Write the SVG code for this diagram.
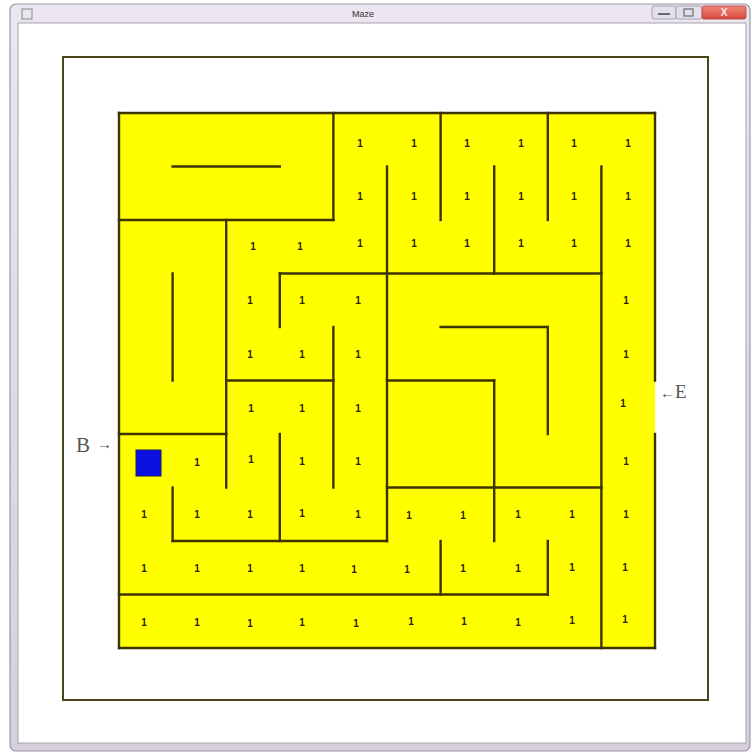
<svg xmlns="http://www.w3.org/2000/svg" width="752" height="753" viewBox="0 0 752 753">
<style>
.w{stroke:#3d3300;stroke-width:2.4;stroke-linecap:square;fill:none}
.m{font-family:"Liberation Sans",Arial,sans-serif;font-size:10px;font-weight:bold;fill:#2a2200;text-anchor:middle}
.lbl{font-family:"Liberation Serif","Times New Roman",serif;fill:#555}
</style>
<defs>
<linearGradient id="tb" x1="0" y1="0" x2="0" y2="1">
<stop offset="0" stop-color="#ece6f0"/><stop offset="1" stop-color="#d6cfdc"/>
</linearGradient>
<linearGradient id="cl" x1="0" y1="0" x2="0" y2="1">
<stop offset="0" stop-color="#f08a7a"/><stop offset="1" stop-color="#d8453a"/>
</linearGradient>
</defs>
<rect width="752" height="753" fill="#ffffff"/>
<g id="window">
<rect x="10" y="4" width="740" height="747" rx="6" fill="url(#tb)" stroke="#9a98a2" stroke-width="1.2"/>
<rect x="18" y="23" width="728" height="720" fill="#ffffff" stroke="#a6a4ae" stroke-width="1"/>
<rect x="22" y="9" width="10" height="10" fill="#e8e6ec" stroke="#8a8890" stroke-width="1"/>
<text x="363" y="17" font-family="'Liberation Sans',Arial,sans-serif" font-size="9" fill="#333" text-anchor="middle">Maze</text>
<rect x="652" y="6" width="24" height="13" rx="2" fill="#e4e0ea" stroke="#9a98a2" stroke-width="0.8"/>
<line x1="658" y1="14" x2="670" y2="14" stroke="#6a6870" stroke-width="2"/>
<rect x="676" y="6" width="26" height="13" rx="2" fill="#e4e0ea" stroke="#9a98a2" stroke-width="0.8"/>
<rect x="684" y="9" width="9" height="7" fill="none" stroke="#6a6870" stroke-width="1.2"/>
<rect x="702" y="6" width="44" height="13" rx="2" fill="url(#cl)" stroke="#b04040" stroke-width="0.8"/>
<text x="724" y="16" font-family="'Liberation Sans',Arial,sans-serif" font-size="10" font-weight="bold" fill="#fbe8e4" text-anchor="middle">X</text>
</g>
<g id="frame">
<rect x="63" y="57" width="645" height="643" fill="#ffffff" stroke="#4a4418" stroke-width="2"/>
</g>
<g id="maze">
<rect x="119" y="113" width="536" height="535" fill="#ffff00"/>
<g id="walls" class="w">
<line x1="119" y1="113" x2="655" y2="113"/>
<line x1="119" y1="113" x2="119" y2="648"/>
<line x1="119" y1="648" x2="655" y2="648"/>
<line x1="655" y1="113" x2="655" y2="380.5"/>
<line x1="655" y1="434" x2="655" y2="648"/>
<line x1="172.6" y1="166.5" x2="279.8" y2="166.5"/>
<line x1="119" y1="220" x2="333.4" y2="220"/>
<line x1="333.4" y1="113" x2="333.4" y2="220"/>
<line x1="440.6" y1="113" x2="440.6" y2="220"/>
<line x1="547.8" y1="113" x2="547.8" y2="220"/>
<line x1="387" y1="166.5" x2="387" y2="541"/>
<line x1="494.2" y1="166.5" x2="494.2" y2="273.5"/>
<line x1="601.4" y1="166.5" x2="601.4" y2="648"/>
<line x1="279.8" y1="273.5" x2="601.4" y2="273.5"/>
<line x1="279.8" y1="273.5" x2="279.8" y2="327"/>
<line x1="226.2" y1="220" x2="226.2" y2="487.5"/>
<line x1="172.6" y1="273.5" x2="172.6" y2="380.5"/>
<line x1="119" y1="434" x2="226.2" y2="434"/>
<line x1="226.2" y1="380.5" x2="333.4" y2="380.5"/>
<line x1="333.4" y1="327" x2="333.4" y2="487.5"/>
<line x1="440.6" y1="327" x2="547.8" y2="327"/>
<line x1="547.8" y1="327" x2="547.8" y2="434"/>
<line x1="387" y1="380.5" x2="494.2" y2="380.5"/>
<line x1="494.2" y1="380.5" x2="494.2" y2="541"/>
<line x1="387" y1="487.5" x2="601.4" y2="487.5"/>
<line x1="279.8" y1="434" x2="279.8" y2="541"/>
<line x1="172.6" y1="487.5" x2="172.6" y2="541"/>
<line x1="172.6" y1="541" x2="387" y2="541"/>
<line x1="119" y1="594.5" x2="547.8" y2="594.5"/>
<line x1="440.6" y1="541" x2="440.6" y2="594.5"/>
<line x1="547.8" y1="541" x2="547.8" y2="594.5"/>
</g>
<g id="marks" class="m">
<text x="360" y="147">1</text><text x="414" y="147">1</text><text x="467" y="147">1</text><text x="521" y="147">1</text><text x="574" y="147">1</text><text x="628" y="147">1</text>
<text x="360" y="200">1</text><text x="414" y="200">1</text><text x="467" y="200">1</text><text x="521" y="200">1</text><text x="574" y="200">1</text><text x="628" y="200">1</text>
<text x="253" y="250">1</text><text x="300" y="250">1</text><text x="360" y="247">1</text><text x="414" y="247">1</text><text x="467" y="247">1</text><text x="521" y="247">1</text><text x="574" y="247">1</text><text x="628" y="247">1</text>
<text x="250" y="304">1</text><text x="302" y="304">1</text><text x="358" y="304">1</text><text x="626" y="304">1</text>
<text x="250" y="358">1</text><text x="302" y="358">1</text><text x="358" y="358">1</text><text x="626" y="358">1</text>
<text x="251" y="412">1</text><text x="302" y="412">1</text><text x="358" y="412">1</text><text x="623" y="407">1</text>
<text x="197" y="466">1</text><text x="251" y="463">1</text><text x="302" y="465">1</text><text x="358" y="465">1</text><text x="626" y="465">1</text>
<text x="144" y="518">1</text><text x="197" y="518">1</text><text x="250" y="518">1</text><text x="302" y="517">1</text><text x="358" y="518">1</text><text x="409" y="519">1</text><text x="463" y="519">1</text><text x="518" y="518">1</text><text x="572" y="518">1</text><text x="626" y="518">1</text>
<text x="144" y="572">1</text><text x="197" y="572">1</text><text x="250" y="572">1</text><text x="302" y="572">1</text><text x="354" y="573">1</text><text x="407" y="573">1</text><text x="463" y="572">1</text><text x="518" y="572">1</text><text x="572" y="571">1</text><text x="625" y="571">1</text>
<text x="144" y="626">1</text><text x="197" y="626">1</text><text x="250" y="627">1</text><text x="302" y="626">1</text><text x="356" y="627">1</text><text x="411" y="625">1</text><text x="464" y="625">1</text><text x="518" y="626">1</text><text x="572" y="624">1</text><text x="625" y="623">1</text>
</g>
<g id="player">
<rect x="136" y="450" width="25" height="26" fill="#0a10e0" stroke="#1a1a60" stroke-width="1"/>
</g>
</g>
<g id="labels">
<text class="lbl" x="76" y="452" font-size="21">B</text>
<text class="lbl" x="97" y="449" font-size="15">→</text>
<text class="lbl" x="660" y="398" font-size="15">←</text>
<text class="lbl" x="675" y="398" font-size="19">E</text>
</g>
</svg>
